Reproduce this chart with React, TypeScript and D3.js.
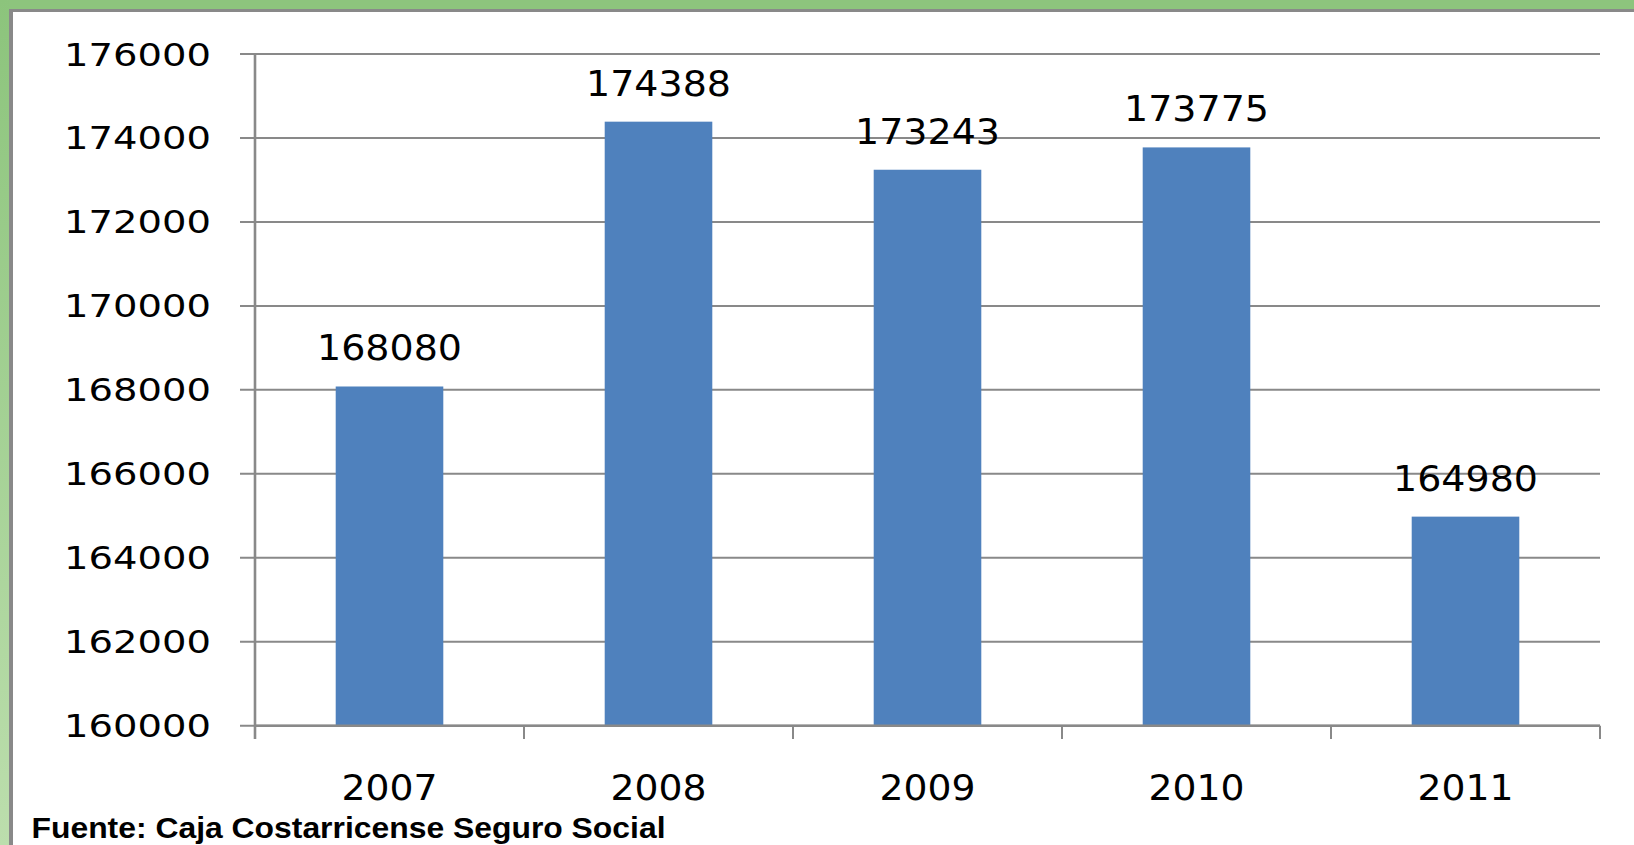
import React from "react";
import * as d3 from "d3";

const categories = ["2007", "2008", "2009", "2010", "2011"];
const values = [168080, 174388, 173243, 173775, 164980];
const yTicks = [160000, 162000, 164000, 166000, 168000, 170000, 172000, 174000, 176000];
const footer = "Fuente: Caja Costarricense Seguro Social";

const W = 1634;
const H = 845;

export default function App() {
  const left = 255;
  const right = 1600;
  const top = 54;
  const bottom = 725.7;
  const x = d3.scaleBand<string>().domain(categories).range([left, right]).padding(0);
  const y = d3.scaleLinear().domain([160000, 176000]).range([bottom, top]);
  const bw = x.bandwidth() * 0.4;
  const grid = "#898989";
  const font = "'DejaVu Sans', Verdana, sans-serif";
  const edges = categories.map((c) => x(c) as number).concat([right]);

  return (
    <div style={{ position: "fixed", left: 0, top: 0, width: W, height: H, background: "#fff" }}>
      <svg width={W} height={H} viewBox={`0 0 ${W} ${H}`}>
        <defs>
          <linearGradient id="lg" x1="0" y1="0" x2="0" y2="1">
            <stop offset="0" stopColor="#8CC47C" />
            <stop offset="1" stopColor="#BCDEAD" />
          </linearGradient>
        </defs>
        <rect x={0} y={0} width={W} height={H} fill="#fff" />
        <rect x={0} y={0} width={W} height={9} fill="#8DC47D" />
        <rect x={0} y={0} width={9} height={H} fill="url(#lg)" />
        <rect x={9} y={9} width={W - 9} height={3} fill={grid} />
        <rect x={9} y={9} width={4} height={H - 9} fill={grid} />

        {yTicks.map((t) => (
          <g key={t}>
            <line x1={240} x2={right} y1={y(t)} y2={y(t)} stroke={grid} strokeWidth={2} />
            <text
              x={211}
              y={y(t) + 11.5}
              textAnchor="end"
              fontFamily={font}
              fontSize={32}
              fill="#000"
              textLength={147}
              lengthAdjust="spacingAndGlyphs"
            >
              {t}
            </text>
          </g>
        ))}

        {categories.map((c, i) => {
          const cx = (x(c) as number) + x.bandwidth() / 2;
          const yt = y(values[i]);
          return (
            <g key={c}>
              <rect x={cx - bw / 2} y={yt} width={bw} height={bottom - yt} fill="#4F81BD" />
              <text
                x={cx}
                y={yt - 26}
                textAnchor="middle"
                fontFamily={font}
                fontSize={35}
                fill="#000"
                textLength={145}
                lengthAdjust="spacingAndGlyphs"
              >
                {values[i]}
              </text>
              <text
                x={cx}
                y={800}
                textAnchor="middle"
                fontFamily={font}
                fontSize={35}
                fill="#000"
                textLength={96}
                lengthAdjust="spacingAndGlyphs"
              >
                {c}
              </text>
            </g>
          );
        })}

        <line x1={left} x2={right} y1={bottom} y2={bottom} stroke={grid} strokeWidth={2.5} />
        {edges.map((e, i) => (
          <line key={i} x1={e} x2={e} y1={bottom} y2={739} stroke={grid} strokeWidth={2} />
        ))}
        <line x1={left} x2={left} y1={top} y2={739} stroke={grid} strokeWidth={2.6} />

        <text
          x={31.5}
          y={838}
          fontFamily="'Liberation Sans', Arial, sans-serif"
          fontWeight="bold"
          fontSize={29}
          fill="#000"
          textLength={634}
          lengthAdjust="spacingAndGlyphs"
        >
          {footer}
        </text>
      </svg>
    </div>
  );
}
